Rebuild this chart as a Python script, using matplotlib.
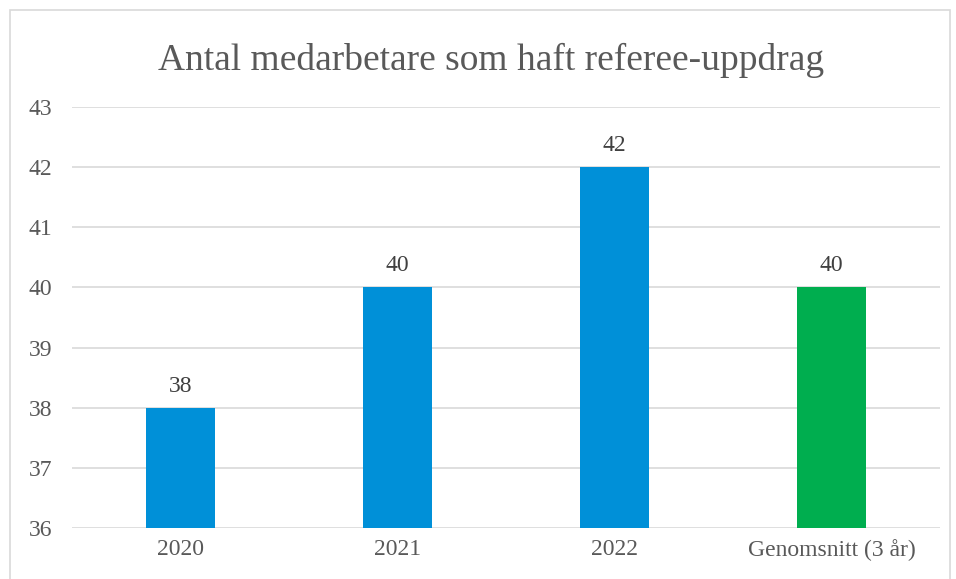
import matplotlib
matplotlib.use("Agg")
import matplotlib.pyplot as plt
from matplotlib.patches import Rectangle

categories = ["2020", "2021", "2022", "Genomsnitt (3 år)"]
values = [38, 40, 42, 40]
colors = ["#0090D8", "#0090D8", "#0090D8", "#00AE4F"]
yticks = [36, 37, 38, 39, 40, 41, 42, 43]
title = "Antal medarbetare som haft referee-uppdrag"

plt.rcParams['font.family'] = ['Liberation Serif', 'DejaVu Serif']
W, H = 956, 579
fig = plt.figure(figsize=(W/100, H/100), dpi=100)
fig.patch.set_facecolor("white")
fig.patches.append(Rectangle((10/W, -0.1), (950-10)/W, (H-10)/H + 0.1, transform=fig.transFigure,
                             fill=False, edgecolor="#D9D9D9", linewidth=1.2))

left, right = 72/W, 940/W
bottom, top = 1 - 528/H, 1 - 107/H
ax = fig.add_axes([left, bottom, right-left, top-bottom])
x = list(range(len(categories)))
ax.bar(x, [v - 36 for v in values], bottom=36, width=0.315, color=colors, zorder=3)
ax.set_xlim(-0.5, len(categories) - 0.5)
ax.set_ylim(36, 43)
ax.set_yticks(yticks)
ax.set_yticklabels([str(t) for t in yticks])
ax.set_xticks(x)
ax.set_xticklabels(categories)
ax.tick_params(axis='both', length=0, labelsize=17, colors="#595959")
ax.tick_params(axis='y', pad=14)
ax.tick_params(axis='x', pad=8)
for s in ax.spines.values():
    s.set_visible(False)
ax.grid(axis='y', color="#D9D9D9", linewidth=1.2, zorder=0)
ax.set_axisbelow(True)
for xi, v in zip(x, values):
    ax.annotate(str(v), (xi, v), xytext=(0, 8), textcoords="offset points",
                ha="center", va="bottom", fontsize=17, color="#404040")
fig.text(491/W, 1 - 60/H, title, ha="center", va="center", fontsize=27, color="#595959")
fig.savefig("out.png", dpi=100)
